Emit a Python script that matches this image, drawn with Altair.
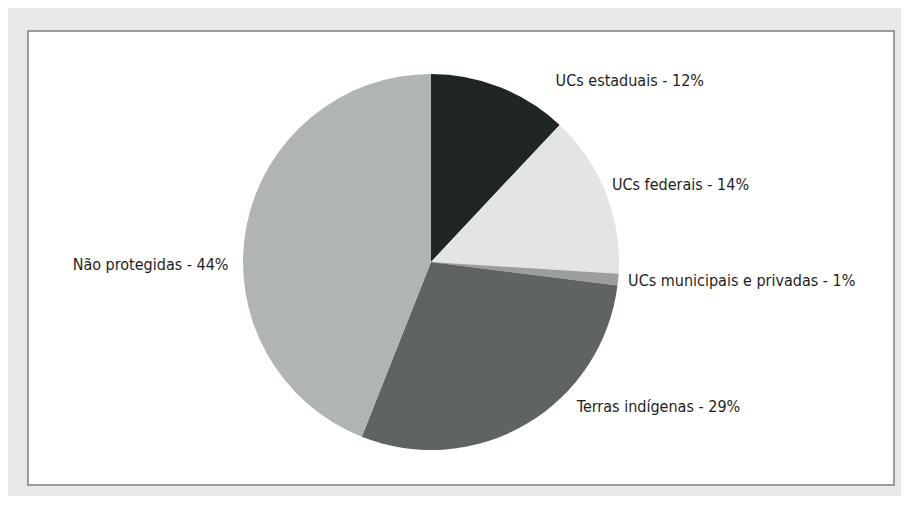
import altair as alt
import pandas as pd

categories = ["UCs estaduais", "UCs federais", "UCs municipais e privadas",
              "Terras indígenas", "Não protegidas"]
values = [12, 14, 1, 29, 44]
colors = ["#202624", "#e3e5e4", "#9c9e9d", "#5f6362", "#b1b4b4"]

df = pd.DataFrame({
    "category": categories,
    "value": values,
    "idx": list(range(len(categories))),
})
df["label"] = [f"{c} - {v}%" for c, v in zip(categories, values)]

CX, CY = 403, 231
R = 188
LR = 200
FONT = "DejaVu Sans Condensed"

pie = alt.Chart(df).mark_arc(outerRadius=R).encode(
    theta=alt.Theta("value:Q", stack=True, scale=alt.Scale(domain=[0, 100])),
    color=alt.Color("category:N", scale=alt.Scale(domain=categories, range=colors), legend=None),
    order=alt.Order("idx:Q"),
    x=alt.value(CX),
    y=alt.value(CY),
)

# label placement tweaks (offsets from the radial anchor), style only
label_style = {
    "UCs estaduais": dict(align="left", dx=51, dy=10),
    "UCs federais": dict(align="left", dx=-5, dy=2),
    "UCs municipais e privadas": dict(align="left", dx=-2, dy=5),
    "Terras indígenas": dict(align="left", dx=44, dy=-22),
    "Não protegidas": dict(align="right", dx=-6, dy=45),
}

layers = [pie]
for cat in categories:
    st = label_style[cat]
    t = alt.Chart(df).transform_window(
        cum="sum(value)", sort=[alt.SortField("idx")], frame=[None, 0]
    ).transform_calculate(
        mid="datum.cum - datum.value / 2"
    ).transform_filter(
        alt.datum.category == cat
    ).mark_text(
        align=st["align"], baseline="alphabetic", dx=st["dx"], dy=st["dy"],
        font=FONT, fontSize=16, color="#1e1e1e",
    ).encode(
        theta=alt.Theta("mid:Q", stack=False, scale=alt.Scale(domain=[0, 100])),
        radius=alt.value(LR),
        text="label:N",
        x=alt.value(CX),
        y=alt.value(CY),
    )
    layers.append(t)

chart = alt.layer(*layers).properties(
    width=866, height=454,
    padding={"left": 20, "top": 23, "right": 7, "bottom": 11},
    background="#e8e9e8",
).configure_view(
    fill="white", stroke="#808080", strokeWidth=1.5
)

chart.save("out.html", embed_options={"renderer": "svg", "actions": False})
